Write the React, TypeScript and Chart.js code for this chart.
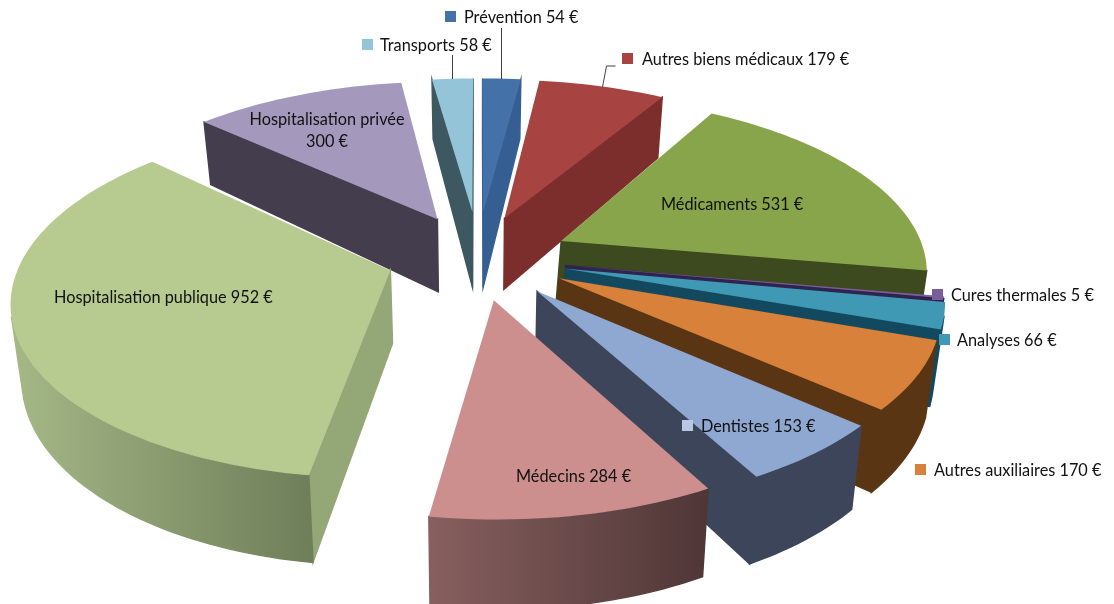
import React, { useEffect, useRef } from "react";
import { Chart, registerables, ArcElement, PieController } from "chart.js";

const categories = ["Prévention", "Autres biens médicaux", "Médicaments", "Cures thermales", "Analyses", "Autres auxiliaires", "Dentistes", "Médecins", "Hospitalisation publique", "Hospitalisation privée", "Transports"];
const amounts = [54, 179, 531, 5, 66, 170, 153, 284, 952, 300, 58];

const topColors = ["#4471a8", "#a74341", "#88a54b", "#7a5d9b", "#3f98b4", "#d7813a", "#8fa8d2", "#cd8f8e", "#b7ca90", "#a598bd", "#93c4d8"];
const markerColors = ["#4471a8", "#a74341", "#88a54b", "#7a5d9b", "#3f98b4", "#d7813a", "#b9c7e2", "#cd8f8e", "#b7ca90", "#a598bd", "#93c4d8"];
const cutColors = ["#355f93", "#7c2e2d", "#3d4a1f", "#2f2350", "#13495f", "#5a3513", "#3c4559", "#5a3d3d", "#94a777", "#443d4d", "#3d5860"];
const wallFrom = ["#355f93", "#7c2e2d", "#3d4a1f", "#2f2350", "#13495f", "#5a3513", "#3c4559", "#875f5f", "#a5b886", "#443d4d", "#3d5860"];
const wallTo = ["#355f93", "#7c2e2d", "#3d4a1f", "#2f2350", "#13495f", "#5a3513", "#3c4559", "#4f3636", "#6f7f5a", "#443d4d", "#3d5860"];

// Camera used to lay the library's arcs on a tilted plane
const CAM = { cx: 478, k: 0.151, topS: 369, topY: 258, topT: 172, botS: 360, botY: 330, botT: 184, explode: 0.24 };
// Small per-slice placement corrections on the tilted plane
const sliceNudge = [[0, 0], [-0.003, 0], [0, 0], [0, 0], [0.004, 0], [0.008, -0.005], [0.006, 0], [0, 0], [-0.008, -0.006], [-0.004, 0], [0, 0]];
const apexNudge = [[0, -0.04], [0, -0.012], [0.011, 0], [0, 0], [0, 0], [0, 0], [0, 0], [0, 0], [0, 0], [0, -0.02], [0, -0.04]];

const labelLayout = [
  { x: 464, y: 18, mx: 445, my: 11 },
  { x: 642, y: 60, mx: 622, my: 53 },
  { x: 661, y: 205, mx: 642, my: 198 },
  { x: 951, y: 296, mx: 932, my: 289 },
  { x: 957, y: 341, mx: 939, my: 334 },
  { x: 934, y: 471, mx: 915, my: 464 },
  { x: 701, y: 427, mx: 682, my: 420 },
  { x: 516, y: 477, mx: 497, my: 470 },
  { x: 54, y: 298, mx: 35, my: 291 },
  { x: 327, y: 120, mx: 0, my: 0, wrap: true },
  { x: 380, y: 46, mx: 362, my: 39 },
];
const leaders = [
  [[501, 28], [501, 79]],
  [[452, 55], [452, 79]],
  [[615, 66], [606, 66], [602, 87]],
];

type P = [number, number];
const project = (u: number, v: number, bottom: boolean): P => {
  const w = 1 - CAM.k * v;
  return bottom
    ? [CAM.cx + (CAM.botS * u) / w, CAM.botY + (CAM.botT * v) / w]
    : [CAM.cx + (CAM.topS * u) / w, CAM.topY + (CAM.topT * v) / w];
};
const facing = (q: P[]) => {
  let s = 0;
  q.forEach((p, i) => {
    const n = q[(i + 1) % q.length];
    s += p[0] * n[1] - n[0] * p[1];
  });
  return s < 0;
};
const fillPoly = (ctx: CanvasRenderingContext2D, q: P[], color: any, seal = false) => {
  ctx.beginPath();
  q.forEach((p, i) => (i ? ctx.lineTo(p[0], p[1]) : ctx.moveTo(p[0], p[1])));
  ctx.closePath();
  ctx.fillStyle = color;
  ctx.fill();
  if (seal) {
    ctx.strokeStyle = color;
    ctx.lineWidth = 1.4;
    ctx.stroke();
  }
};

class Arc3D extends ArcElement {
  static id = "arc3d";
  sliceIndex = 0;
  draw(ctx: CanvasRenderingContext2D) {
    const i = this.sliceIndex;
    const a0 = this.startAngle, a1 = this.endAngle;
    const mid = (a0 + a1) / 2;
    const ax = CAM.explode * Math.cos(mid) + sliceNudge[i][0], ay = CAM.explode * Math.sin(mid) + sliceNudge[i][1];
    const steps = Math.max(2, Math.ceil(((a1 - a0) * 180) / Math.PI / 1.5));
    const rim: [number, number][] = [];
    for (let s = 0; s <= steps; s++) {
      const a = a0 + ((a1 - a0) * s) / steps;
      rim.push([Math.cos(a) + ax, Math.sin(a) + ay]);
    }
    const apex: [number, number] = [ax + apexNudge[i][0], ay + apexNudge[i][1]];
    const apexBot: [number, number] = [ax, ay];
    const T = (p: [number, number]) => project(p[0], p[1], false);
    const B = (p: [number, number]) => project(p[0], p[1], true);

    const first = [T(apex), T(rim[0]), B(rim[0]), B(apexBot)];
    const last = [T(rim[rim.length - 1]), T(apex), B(apexBot), B(rim[rim.length - 1])];
    [first, last].forEach((quad) => {
      if (facing(quad)) fillPoly(ctx, quad, cutColors[i], true);
    });
    const front: number[] = [];
    for (let s = 0; s < steps; s++) {
      if (facing([T(rim[s]), T(rim[s + 1]), B(rim[s + 1]), B(rim[s])])) front.push(s);
    }
    if (front.length) {
      const pts = [...front, front[front.length - 1] + 1].map((s) => rim[s]);
      const poly = [...pts.map(T), ...pts.map(B).reverse()];
      const xs = pts.map((p) => T(p)[0]);
      const g = ctx.createLinearGradient(Math.min(...xs), 0, Math.max(...xs) + 0.01, 0);
      g.addColorStop(0, wallFrom[i]);
      g.addColorStop(1, wallTo[i]);
      fillPoly(ctx, poly, g, true);
    }
    fillPoly(ctx, [T(apex), ...rim.map(T)], this.options.backgroundColor as string);
  }
}

class Pie3D extends PieController {
  static id = "pie3d";
  static defaults = { ...PieController.defaults, dataElementType: "arc3d" };
  draw() {
    const ctx = this.chart.ctx;
    const els = this.getMeta().data as any[];
    const depth = (e: any) => Math.sin((e.startAngle + e.endAngle) / 2);
    els
      .map((e, i) => {
        e.sliceIndex = i;
        return e;
      })
      .sort((a, b) => depth(a) - depth(b))
      .forEach((e) => e.draw(ctx));
  }
}

const labelPlugin = {
  id: "sliceLabels",
  afterDatasetsDraw(chart: any) {
    const ctx: CanvasRenderingContext2D = chart.ctx;
    ctx.save();
    ctx.strokeStyle = "#404040";
    ctx.lineWidth = 1;
    leaders.forEach((l) => {
      ctx.beginPath();
      l.forEach((p, i) => (i ? ctx.lineTo(p[0] + 0.5, p[1]) : ctx.moveTo(p[0] + 0.5, p[1])));
      ctx.stroke();
    });
    ctx.font = "16.3px Lato";
    ctx.textBaseline = "middle";
    categories.forEach((name, i) => {
      const l: any = labelLayout[i];
      ctx.fillStyle = markerColors[i];
      if (!l.wrap) ctx.fillRect(l.mx, l.my, 11, 11);
      ctx.fillStyle = "#111";
      if (l.wrap) {
        ctx.textAlign = "center";
        ctx.fillText(name, l.x, l.y);
        ctx.fillText(`${amounts[i]} €`, l.x, l.y + 22);
      } else {
        ctx.textAlign = "left";
        ctx.fillText(`${name} ${amounts[i]} €`, l.x, l.y);
      }
    });
    ctx.restore();
  },
};

Chart.register(...registerables, Arc3D as any, Pie3D as any);

export default function App() {
  const ref = useRef<HTMLCanvasElement>(null);
  useEffect(() => {
    const chart = new Chart(ref.current!, {
      type: "pie3d" as any,
      data: { labels: categories, datasets: [{ data: amounts, backgroundColor: topColors, borderWidth: 0 }] },
      options: {
        animation: false,
        responsive: false,
        rotation: 0,
        plugins: { legend: { display: false }, tooltip: { enabled: false } },
      } as any,
      plugins: [labelPlugin],
    });
    return () => chart.destroy();
  }, []);
  return (
    <div style={{ position: "fixed", left: 0, top: 0, width: 1114, height: 604, background: "#fff" }}>
      <canvas ref={ref} width={1114} height={604} style={{ display: "block" }} />
    </div>
  );
}
